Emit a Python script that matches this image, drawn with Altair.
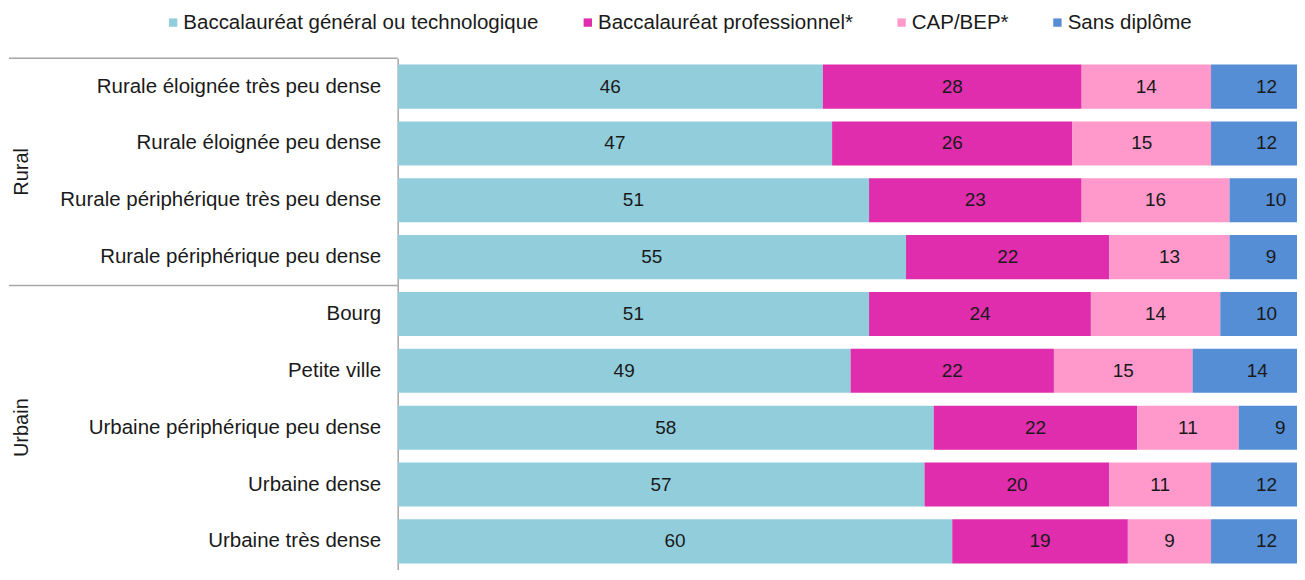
import altair as alt
import pandas as pd

categories = [
    "Rurale éloignée très peu dense",
    "Rurale éloignée peu dense",
    "Rurale périphérique très peu dense",
    "Rurale périphérique peu dense",
    "Bourg",
    "Petite ville",
    "Urbaine périphérique peu dense",
    "Urbaine dense",
    "Urbaine très dense",
]
groups = ["Rural"] * 4 + ["Urbain"] * 5
series = [
    "Baccalauréat général ou technologique",
    "Baccalauréat professionnel*",
    "CAP/BEP*",
    "Sans diplôme",
]
bac_gen = [46, 47, 51, 55, 51, 49, 58, 57, 60]
bac_pro = [28, 26, 23, 22, 24, 22, 22, 20, 19]
cap_bep = [14, 15, 16, 13, 14, 15, 11, 11, 9]
sans_dipl = [12, 12, 10, 9, 10, 14, 9, 12, 12]
colors = ["#92CDDC", "#E02DAD", "#FF99CC", "#558ED5"]

rows = []
for i, cat in enumerate(categories):
    for j, (s, vals) in enumerate(zip(series, [bac_gen, bac_pro, cap_bep, sans_dipl])):
        rows.append({"cat": cat, "group": groups[i], "serie": s, "order": j, "value": vals[i]})
df = pd.DataFrame(rows)

FONT = "Liberation Sans"
TXT = "#1a1a1a"

Y_AXIS = alt.Axis(
    title=None, labelFontSize=20.5, labelFont=FONT, labelColor=TXT,
    labelPadding=17, labelLimit=400, ticks=False,
    domainColor="#a6a6a6", domainWidth=1.5, grid=False,
)


def ycat(bp=None):
    kw = {}
    if bp is not None:
        kw["bandPosition"] = bp
    return alt.Y("cat:N", sort=categories,
                 scale=alt.Scale(paddingInner=0, paddingOuter=0), axis=Y_AXIS, **kw)


base = alt.Chart(df).transform_stack(
    stack="value", groupby=["cat"], as_=["x0", "x1"],
    sort=[alt.SortField("order", order="ascending")],
).transform_calculate(mid="(datum.x0 + datum.x1) / 2")

bars = base.mark_bar(height={"band": 0.775}, clip=True).encode(
    y=ycat(),
    x=alt.X("x0:Q", scale=alt.Scale(domain=[0, 97.3], nice=False), axis=None),
    x2="x1:Q",
    color=alt.Color(
        "serie:N", sort=series,
        scale=alt.Scale(domain=series, range=colors),
        legend=alt.Legend(
            title=None, orient="none", legendX=-235, legendY=-46,
            direction="horizontal", symbolType="square", symbolSize=70,
            symbolStrokeWidth=0, labelFontSize=20.5, labelFont=FONT,
            labelColor=TXT, columnPadding=38, labelOffset=0, labelLimit=600,
        ),
    ),
)

labels = base.mark_text(fontSize=19, font=FONT, color=TXT).encode(
    y=ycat(),
    x=alt.X("mid:Q"),
    text="value:Q",
)

top_df = pd.DataFrame({"cat": [categories[0]]})
bottom_df = pd.DataFrame({"cat": [categories[3]]})
rule_top = alt.Chart(top_df).mark_rule(color="#a6a6a6", strokeWidth=1.5).encode(
    y=ycat(bp=0), x=alt.value(-389), x2=alt.value(0)
)
rule_bottom = alt.Chart(bottom_df).mark_rule(color="#a6a6a6", strokeWidth=1.5).encode(
    y=ycat(bp=1), x=alt.value(-389), x2=alt.value(0)
)

grp1 = pd.DataFrame({"cat": [categories[1]], "group": ["Rural"]})
grp2 = pd.DataFrame({"cat": [categories[6]], "group": ["Urbain"]})
g_rural = alt.Chart(grp1).mark_text(angle=270, fontSize=20, font=FONT, color=TXT,
                                    align="center", baseline="middle").encode(
    y=ycat(bp=1), x=alt.value(-376), text="group:N"
)
g_urb = alt.Chart(grp2).mark_text(angle=270, fontSize=20, font=FONT, color=TXT,
                                  align="center", baseline="middle").encode(
    y=ycat(bp=0.5), x=alt.value(-376), text="group:N"
)

chart = alt.layer(bars, labels, rule_top, rule_bottom, g_rural, g_urb).properties(
    width=900, height=512,
    padding={"top": 4, "left": 0, "right": 0, "bottom": 0},
).configure_view(stroke=None)

chart.save("out.html", embed_options={"renderer": "svg", "actions": False})
